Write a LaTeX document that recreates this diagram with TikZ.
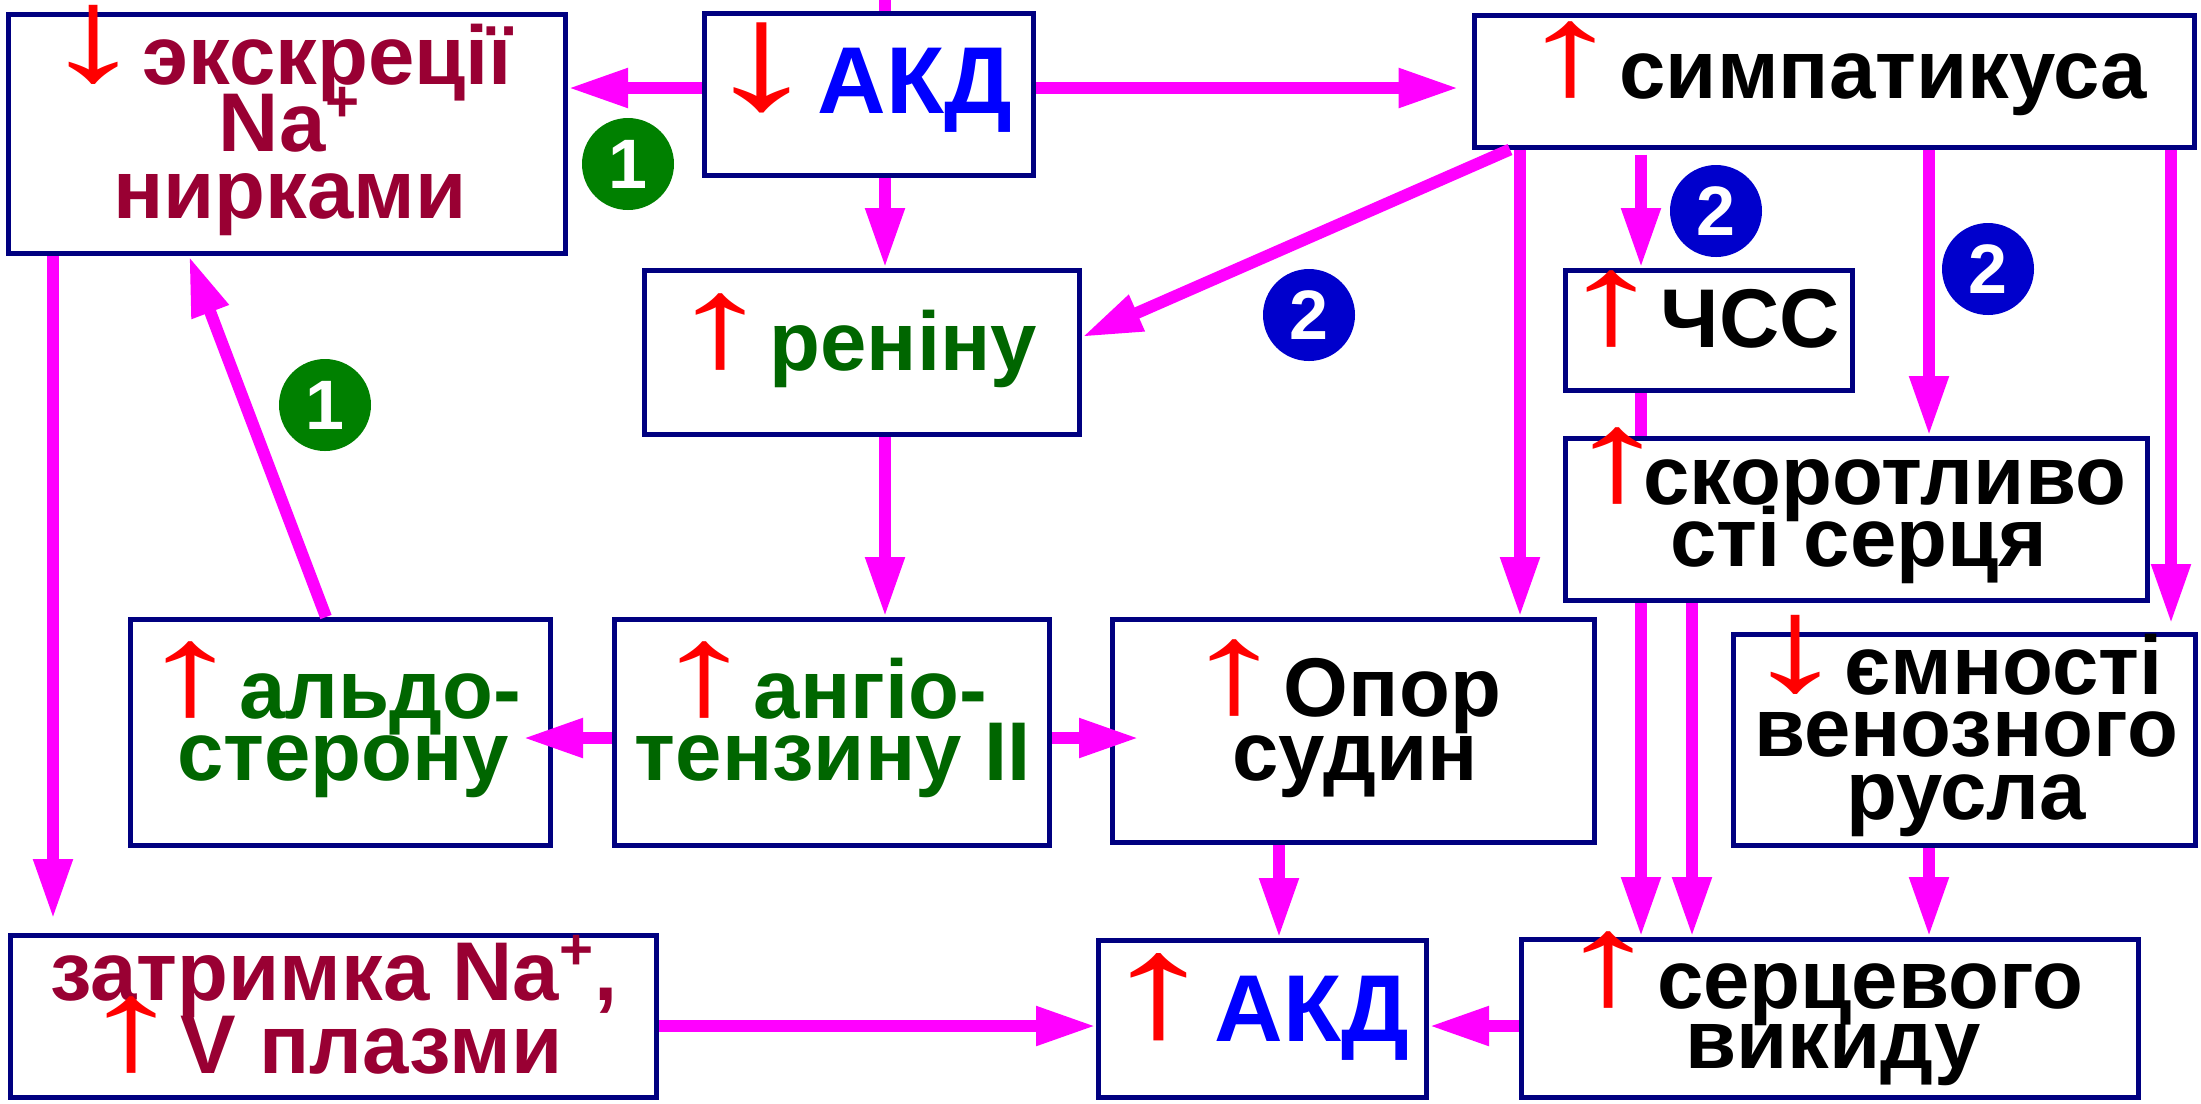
\documentclass[tikz,border=0pt]{standalone}
\usepackage{fontspec}
\setmainfont{Liberation Sans}
\newfontfamily\arrowfont{Liberation Sans}
\usepackage{graphicx}
\usetikzlibrary{arrows.meta}
\definecolor{navyb}{HTML}{000080}
\definecolor{mag}{HTML}{FF00FF}
\definecolor{maroonc}{HTML}{990033}
\definecolor{dgreen}{HTML}{006600}
\definecolor{bgreen}{HTML}{008000}
\definecolor{bblue}{HTML}{0000CC}
\definecolor{akdblue}{HTML}{0000FF}
\newcommand\UA{\textcolor{red}{\makebox[0.62em][c]{\smash{\resizebox*{1.25em}{0.92em}{\raisebox{\depth}{\arrowfont\mdseries ↑}}}}}}
\newcommand\DA{\textcolor{red}{\makebox[0.62em][c]{\smash{\resizebox*{1.25em}{0.95em}{\raisebox{\depth}{\arrowfont\mdseries ↓}}}}}}
\lineskiplimit=-1000pt\relax
\lineskip=0pt\relax
\begin{document}
\lineskiplimit=-1000pt\relax
\lineskip=0pt\relax
\begin{tikzpicture}[x=0.3pt,y=-0.3pt,
  box/.style={draw=navyb, line width=1.5pt, fill=white, inner sep=0pt},
  txt/.style={align=center, anchor=base, inner sep=0pt},
  fs/.style={font=\bfseries\fontsize{25}{#1}\selectfont},
  big/.style={font=\bfseries\fontsize{28.5}{30}\selectfont},
  arr/.style={draw=mag, line width=3.6pt, -{Triangle[length=18pt,width=11pt]}},
  ln/.style={draw=mag, line width=3.6pt},
  badge/.style={circle, minimum size=27.6pt, inner sep=0pt, text=white, font=\bfseries\fontsize{21}{21}\selectfont},
]
\useasboundingbox (0,0) rectangle (2201,1103);
% boxes
\node[box, minimum width=167.1pt, minimum height=71.7pt] (A) at (287,134) {};
\node[box, minimum width=98.7pt, minimum height=48.6pt] (B) at (869,94.5) {};
\node[box, minimum width=216pt, minimum height=39.6pt] (C) at (1834.5,81) {};
\node[box, minimum width=130.5pt, minimum height=49.2pt] (R) at (862,352.5) {};
\node[box, minimum width=86.1pt, minimum height=36pt] (H) at (1709,330.5) {};
\node[box, minimum width=174.6pt, minimum height=48.6pt] (K) at (1856.5,519.5) {};
\node[box, minimum width=126pt, minimum height=67.8pt] (L) at (340.5,732.5) {};
\node[box, minimum width=130.5pt, minimum height=67.8pt] (G) at (832,732.5) {};
\node[box, minimum width=144.6pt, minimum height=66.9pt] (O) at (1353.5,731) {};
\node[box, minimum width=138.6pt, minimum height=63.3pt] (E) at (1964.5,740) {};
\node[box, minimum width=193.8pt, minimum height=48.6pt] (Z) at (333.5,1016.5) {};
\node[box, minimum width=98.4pt, minimum height=47.1pt] (D) at (1262.5,1019) {};
\node[box, minimum width=185.1pt, minimum height=47.4pt] (S) at (1830,1018.5) {};
% helper coordinates
\coordinate (r1) at (0,88);
\coordinate (r2) at (0,738);
\coordinate (r3) at (0,1026);
\coordinate (r4) at (0,337);
\coordinate (top) at (885,0);
\coordinate (c2) at (53,0);
\coordinate (c3) at (1279,0);
\coordinate (c4) at (1520,0);
\coordinate (c5) at (1641,0);
\coordinate (c6) at (1929,0);
\coordinate (c7) at (2171,0);
\coordinate (c9) at (1692,0);
\coordinate (c10) at (326,0);
\coordinate (c11) at (189,0);
\coordinate (d1) at (1510,0);
% connectors
\draw[ln] (top) -- (top |- B.north);
\draw[arr] (B.west |- r1) -- (A.east |- r1);
\draw[arr, shorten >=4pt] (B.east |- r1) -- (C.west |- r1);
\draw[arr] (top |- B.south) -- (top |- R.north);
\draw[arr] (top |- R.south) -- (top |- G.north);
\draw[arr, shorten >=-9pt] (G.west |- r2) -- (L.east |- r2);
\draw[arr, shorten >=-8.7pt] (G.east |- r2) -- (O.west |- r2);
\draw[arr] (c10 |- L.north) -- (c11 |- A.south);
\draw[arr, shorten >=4.2pt] (c2 |- A.south) -- (c2 |- Z.north);
\draw[arr] (Z.east |- r3) -- (D.west |- r3);
\draw[arr] (S.west |- r3) -- (D.east |- r3);
\draw[arr] (c3 |- O.south) -- (c3 |- D.north);
\draw[arr] (d1 |- C.south) -- (R.east |- r4);
\draw[arr] (c4 |- C.south) -- (c4 |- O.north);
\draw[arr, shorten <=1.5pt] (c5 |- C.south) -- (c5 |- H.north);
\draw[ln] (c5 |- H.south) -- (c5 |- K.north);
\draw[arr] (c6 |- C.south) -- (c6 |- K.north);
\draw[arr, shorten >=2.4pt] (c7 |- C.south) -- (c7 |- E.north);
\draw[arr] (c5 |- K.south) -- (c5 |- S.north);
\draw[arr] (c9 |- K.south) -- (c9 |- S.north);
\draw[arr] (c6 |- E.south) -- (c6 |- S.north);
% texts (anchored at the baseline of the last line)
\node[txt, fs=20pt, text=maroonc] (tA) at (290,218) {\DA\ экскреції\\Na\textsuperscript{+}\\нирками};
\node[txt, big, text=akdblue] (tB) at (872,113) {\DA\ АКД};
\node[txt, fs=20pt, text=black] (tC) at (1846,98) {\UA\ симпатикуса};
\node[txt, fs=20pt, text=dgreen] (tR) at (866,370) {\UA\ реніну};
\node[txt, fs=20pt, text=black] (tH) at (1713,347) {\UA\ ЧСС};
\node[txt, fs=18.6pt, text=black] (tK) at (1859,566) {\UA скоротливо\\сті серця};
\node[txt, fs=18.6pt, text=dgreen] (tL) at (343,780) {\UA\ альдо-\\стерону};
\node[txt, fs=18.6pt, text=dgreen] (tG) at (833,780) {\UA\ ангіо-\\тензину II};
\node[txt, fs=19.2pt, text=black] (tO) at (1355,780) {\UA\ Опор\\судин};
\node[txt, fs=18.75pt, text=black] (tE) at (1966,819) {\DA\ ємності\\венозного\\русла};
\node[txt, fs=21.9pt, text=maroonc] (tZ) at (334,1073) {затримка Na\textsuperscript{+},\\\UA\ V плазми};
\node[txt, big, text=akdblue] (tD) at (1269,1041) {\UA\ АКД};
\node[txt, fs=18pt, text=black] (tS) at (1833,1068) {\UA\ серцевого\\викиду};
% badges
\node[badge, fill=bgreen] (n1) at (628,164) {1};
\node[badge, fill=bgreen] (n2) at (325,405) {1};
\node[badge, fill=bblue] (n3) at (1716,211) {2};
\node[badge, fill=bblue] (n4) at (1309,315) {2};
\node[badge, fill=bblue] (n5) at (1988,269) {2};
\end{tikzpicture}
\end{document}
